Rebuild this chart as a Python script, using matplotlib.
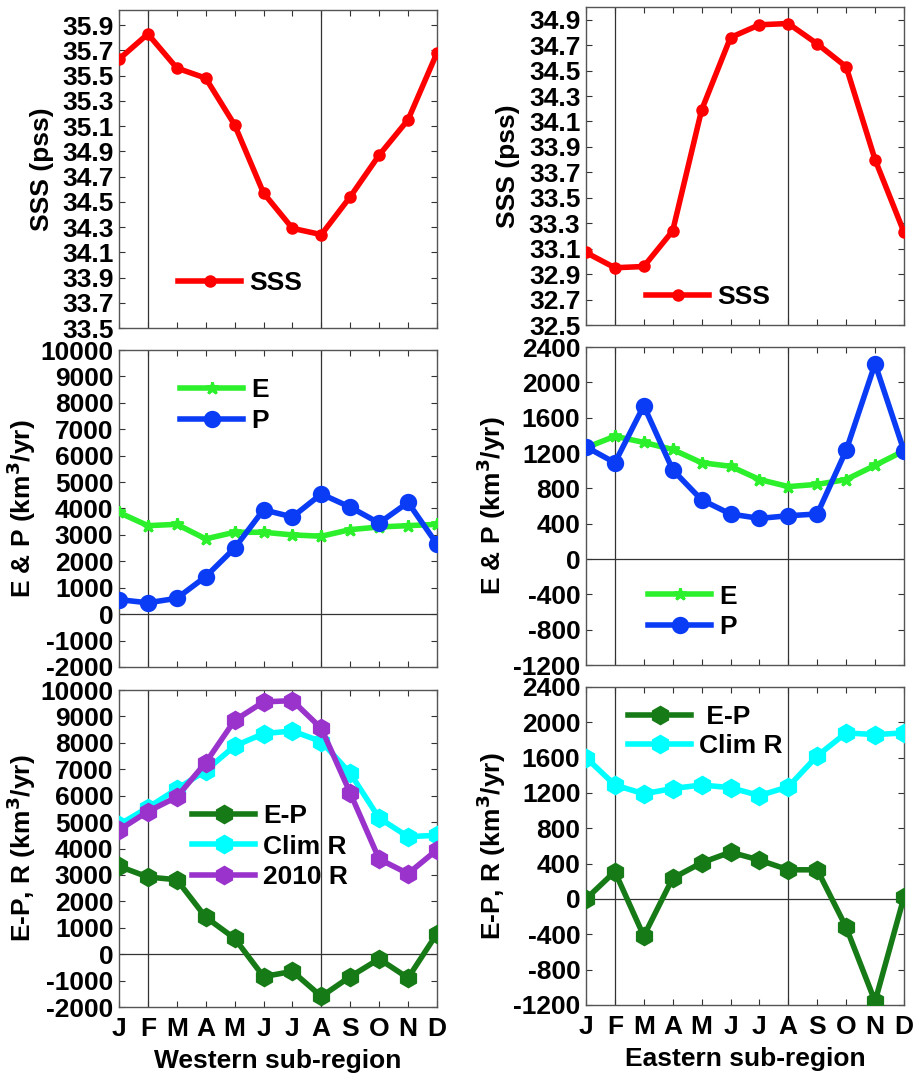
import matplotlib
matplotlib.use("Agg")
import matplotlib.pyplot as plt
import numpy as np

plt.rcParams['font.family'] = ['Liberation Sans', 'DejaVu Sans']
plt.rcParams['font.weight'] = 'bold'
plt.rcParams['axes.labelweight'] = 'bold'
plt.rcParams['mathtext.default'] = 'bf'

months = ['J', 'F', 'M', 'A', 'M', 'J', 'J', 'A', 'S', 'O', 'N', 'D']
mon = np.arange(1, 13)

# Western sub-region
sss_w = [35.63, 35.83, 35.56, 35.48, 35.11, 34.57, 34.29, 34.24, 34.54, 34.87, 35.15, 35.68]
e_w = [3850, 3350, 3400, 2850, 3100, 3100, 3000, 2950, 3200, 3300, 3350, 3400]
p_w = [550, 430, 600, 1420, 2500, 3950, 3680, 4550, 4050, 3450, 4230, 2650]
emp_w = [3330, 2920, 2820, 1400, 600, -850, -650, -1600, -850, -180, -900, 780]
climr_w = [4900, 5550, 6250, 6950, 7880, 8350, 8450, 8050, 6850, 5150, 4450, 4500]
r2010_w = [4700, 5400, 5950, 7250, 8850, 9550, 9600, 8550, 6100, 3600, 3050, 3950]

# Eastern sub-region
sss_e = [33.07, 32.95, 32.96, 33.24, 34.19, 34.76, 34.86, 34.87, 34.71, 34.53, 33.80, 33.23]
e_e = [1260, 1390, 1320, 1240, 1090, 1050, 900, 820, 845, 900, 1060, 1225]
p_e = [1270, 1090, 1735, 1010, 670, 510, 460, 490, 510, 1230, 2210, 1225]
emp_e = [0, 310, -420, 235, 410, 530, 440, 330, 330, -320, -1160, 20]
climr_e = [1600, 1290, 1190, 1250, 1290, 1260, 1170, 1270, 1620, 1880, 1860, 1880]

sss_w_ticks = np.round(np.arange(33.5, 35.95, 0.2), 1)
sss_e_ticks = np.round(np.arange(32.5, 34.95, 0.2), 1)
ep_w_ticks = np.arange(-2000, 10001, 1000)
ep_e_ticks = np.arange(-1200, 2401, 400)

C_RED = '#ff0000'
C_E = '#2bf02b'
C_P = '#0a3cf5'
C_EMP = '#167a16'
C_CLIM = '#00ffff'
C_2010 = '#9933cc'

FS = 19
LW = 4.0

fig = plt.figure(figsize=(9.13, 10.73), dpi=100)

pos = {
    (0, 0): [0.1303, 0.6943, 0.3483, 0.2964],
    (0, 1): [0.6418, 0.6971, 0.3483, 0.2964],
    (1, 0): [0.1303, 0.3784, 0.3483, 0.2954],
    (1, 1): [0.6418, 0.3802, 0.3483, 0.2964],
    (2, 0): [0.1303, 0.0615, 0.3483, 0.2954],
    (2, 1): [0.6418, 0.0634, 0.3483, 0.2964],
}


def style(ax, ylim, yticks, fmt, bottom_row, zero_line):
    ax.set_xlim(1, 12)
    ax.set_ylim(*ylim)
    ax.set_xticks(mon)
    ax.set_yticks(yticks)
    ax.set_yticklabels([fmt(v) for v in yticks], fontsize=FS, fontweight='bold')
    if bottom_row:
        ax.set_xticklabels(months, fontsize=FS, fontweight='bold')
    else:
        ax.set_xticklabels([])
    ax.tick_params(direction='in', length=4, width=0.8, top=True, right=True,
                   colors='#333333', labelcolor='black')
    ax.tick_params(axis='y', pad=4)
    ax.tick_params(axis='x', pad=7)
    for s in ax.spines.values():
        s.set_color('#555555')
        s.set_linewidth(1.0)
    for xv in (2, 8):
        ax.axvline(xv, color='#333333', lw=0.9, zorder=1)
    if zero_line:
        ax.axhline(0, color='#333333', lw=0.9, zorder=1)


def leg(ax, x, y, spacing=0.26):
    ax.legend(loc='center left', bbox_to_anchor=(x, y), frameon=False,
              prop={'weight': 'bold', 'size': FS},
              handlelength=2.4, handletextpad=0.3, borderpad=0,
              borderaxespad=0, labelspacing=spacing, numpoints=1)


fmt1 = lambda v: f"{v:.1f}"
fmti = lambda v: f"{int(v)}"

# Row 1: SSS
ax = fig.add_axes(pos[(0, 0)])
ax.plot(mon, sss_w, '-o', color=C_RED, lw=LW, ms=8, label='SSS', zorder=3)
style(ax, (33.5, 36.02), sss_w_ticks, fmt1, False, False)
ax.set_ylabel('SSS (pss)', fontsize=FS, fontweight='bold', labelpad=6)
leg(ax, 0.186, 0.1415)

ax = fig.add_axes(pos[(0, 1)])
ax.plot(mon, sss_e, '-o', color=C_RED, lw=LW, ms=8, label='SSS', zorder=3)
style(ax, (32.5, 35.0), sss_e_ticks, fmt1, False, False)
ax.set_ylabel('SSS (pss)', fontsize=FS, fontweight='bold', labelpad=6)
leg(ax, 0.189, 0.088)

# Row 2: E & P
ylab_ep = r'E & P (km$^{3}$/yr)'
ax = fig.add_axes(pos[(1, 0)])
ax.plot(mon, e_w, '-*', color=C_E, lw=LW, ms=9, mew=2, label='E', zorder=3)
ax.plot(mon, p_w, '-o', color=C_P, lw=LW, ms=6.5, mew=6, mfc='white', label='P', zorder=4)
style(ax, (-2000, 10000), ep_w_ticks, fmti, False, True)
ax.set_ylabel(ylab_ep, fontsize=FS, fontweight='bold', labelpad=2)
leg(ax, 0.192, 0.825)

ax = fig.add_axes(pos[(1, 1)])
ax.plot(mon, e_e, '-*', color=C_E, lw=LW, ms=9, mew=2, label='E', zorder=3)
ax.plot(mon, p_e, '-o', color=C_P, lw=LW, ms=6.5, mew=6, mfc='white', label='P', zorder=4)
style(ax, (-1200, 2400), ep_e_ticks, fmti, False, True)
ax.set_ylabel(ylab_ep, fontsize=FS, fontweight='bold', labelpad=4)
leg(ax, 0.195, 0.167)

# Row 3: E-P, R
ylab_r = r'E-P, R (km$^{3}$/yr)'
ax = fig.add_axes(pos[(2, 0)])
ax.plot(mon, emp_w, '-h', color=C_EMP, lw=LW, ms=12, mew=2, label='E-P', zorder=5)
ax.plot(mon, climr_w, '-h', color=C_CLIM, lw=LW, ms=12, mew=2, label='Clim R', zorder=3)
ax.plot(mon, r2010_w, '-h', color=C_2010, lw=LW, ms=12, mew=2, label='2010 R', zorder=4)
style(ax, (-2000, 10000), ep_w_ticks, fmti, True, True)
ax.set_ylabel(ylab_r, fontsize=FS, fontweight='bold', labelpad=2)
ax.set_xlabel('Western sub-region', fontsize=FS, fontweight='bold', labelpad=6)
leg(ax, 0.230, 0.506, 0.25)

ax = fig.add_axes(pos[(2, 1)])
ax.plot(mon, emp_e, '-h', color=C_EMP, lw=LW, ms=12, mew=2, label=' E-P', zorder=4)
ax.plot(mon, climr_e, '-h', color=C_CLIM, lw=LW, ms=12, mew=2, label='Clim R', zorder=3)
style(ax, (-1200, 2400), ep_e_ticks, fmti, True, True)
ax.set_ylabel(ylab_r, fontsize=FS, fontweight='bold', labelpad=4)
ax.set_xlabel('Eastern sub-region', fontsize=FS, fontweight='bold', labelpad=6)
leg(ax, 0.132, 0.860, 0.2)

fig.savefig('out.png', dpi=100)
